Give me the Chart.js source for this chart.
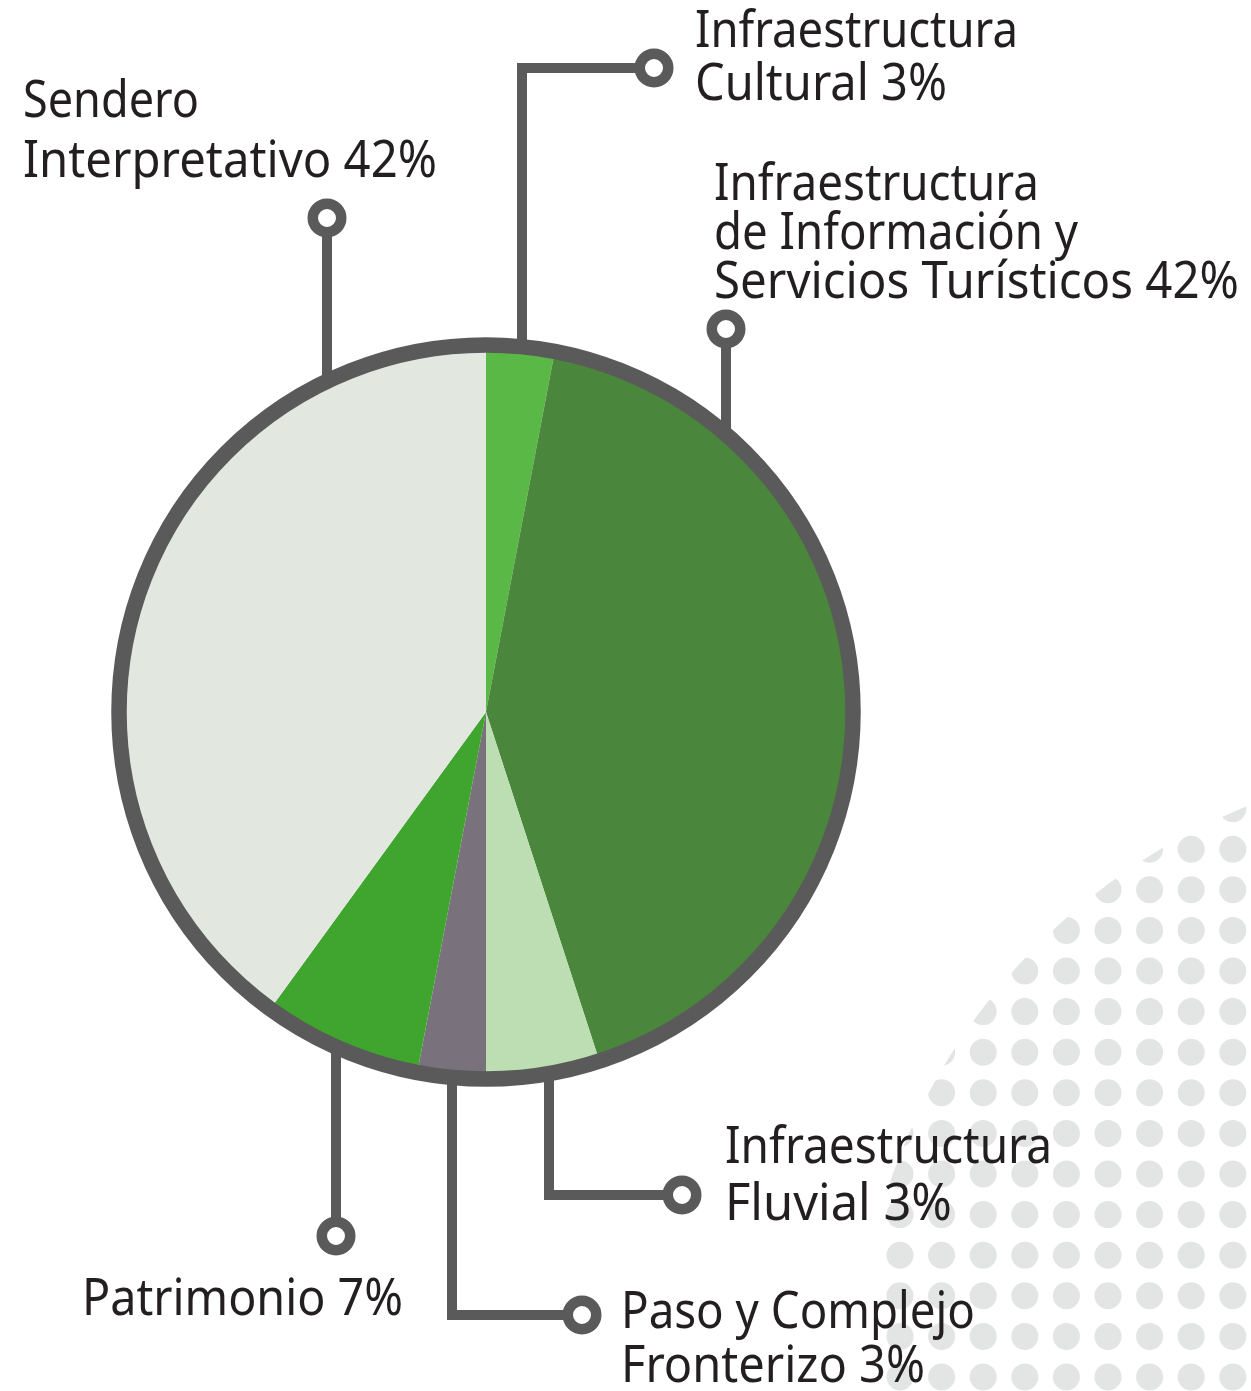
<!DOCTYPE html>
<html>
<head>
<meta charset="utf-8">
<script src="https://cdn.jsdelivr.net/npm/chart.js@4.4.1/dist/chart.umd.min.js"></script>
<style>
  html, body { margin: 0; padding: 0; background: #ffffff; }
  #wrap { width: 1251px; height: 1391px; }
</style>
</head>
<body>
<div id="wrap"><canvas id="pieChart" width="1251" height="1391"></canvas></div>
<script>
// categories, clockwise from 12 o'clock (each split into its printed lines)
const categories = [
    ['Infraestructura', 'Cultural'],
    ['Infraestructura', 'de Información y', 'Servicios Turísticos'],
    ['Infraestructura', 'Fluvial'],
    ['Paso y Complejo', 'Fronterizo'],
    ['Patrimonio'],
    ['Sendero', 'Interpretativo']
];
// slice sizes as drawn in the picture (%)
const sliceShares = [3, 42, 5, 3, 7, 40];
// percentages printed in the labels
const labelPercents = [3, 42, 3, 3, 7, 42];
const sliceColors = ['#5ab946', '#4a873c', '#bddeb2', '#79717b', '#3fa52e', '#e2e8e0'];

const GREY = '#5a5a5a';
const INK = '#231f20';

// where each label and its leader sit; widths = printed width of each line
const labelLayout = [
    { x: 695, y: 47,   lead: 53, widths: [323, 252],      marker: [654, 68],   elbowX: 522 },
    { x: 714, y: 200,  lead: 49, widths: [325, 364, 525], marker: [726, 329],  elbowX: null },
    { x: 725, y: 1163, lead: 57, widths: [327, 227],      marker: [682, 1195], elbowX: 549 },
    { x: 621, y: 1328, lead: 54, widths: [354, 304],      marker: [582, 1315], elbowX: 452 },
    { x: 82,  y: 1315, lead: 0,  widths: [321],           marker: [336, 1236], elbowX: null },
    { x: 23,  y: 117,  lead: 60, widths: [176, 414],      marker: [327, 218],  elbowX: null }
];

function labelLines(i) {
    const lines = categories[i].slice();
    lines[lines.length - 1] += ' ' + labelPercents[i] + '%';
    return lines;
}

const decor = {
    id: 'decor',
    beforeDraw(chart) {
        // dotted backdrop, bottom right
        const ctx = chart.ctx;
        ctx.save();
        ctx.beginPath();
        ctx.arc(1480, 1385, 624, 0, Math.PI * 2);
        ctx.clip();
        ctx.fillStyle = '#e3e4e4';
        for (let r = 0; r < 15; r++) {
            const y = 1377 - r * 40.6;
            for (let c = 0; c < 9; c++) {
                const x = 900 + c * 41.6;
                ctx.beginPath();
                ctx.arc(x, y, 13.5, 0, Math.PI * 2);
                ctx.fill();
            }
        }
        ctx.restore();
    },
    afterDatasetsDraw(chart) {
        const ctx = chart.ctx;
        const arc = chart.getDatasetMeta(0).data[0];
        const cx = arc.x, cy = arc.y, R = arc.outerRadius - 1;

        ctx.save();
        // leader lines
        ctx.strokeStyle = GREY;
        ctx.lineWidth = 10;
        ctx.lineJoin = 'miter';
        labelLayout.forEach(l => {
            const [mx, my] = l.marker;
            const vx = l.elbowX === null ? mx : l.elbowX;
            const half = Math.sqrt(R * R - (vx - cx) * (vx - cx));
            const endY = my < cy ? cy - half : cy + half;
            ctx.beginPath();
            ctx.moveTo(mx, my);
            if (l.elbowX !== null) ctx.lineTo(vx, my);
            ctx.lineTo(vx, endY);
            ctx.stroke();
        });

        // outer ring
        ctx.lineWidth = 15.5;
        ctx.beginPath();
        ctx.arc(cx, cy, R, 0, Math.PI * 2);
        ctx.stroke();

        // markers
        ctx.lineWidth = 10.5;
        ctx.fillStyle = '#ffffff';
        labelLayout.forEach(l => {
            ctx.beginPath();
            ctx.arc(l.marker[0], l.marker[1], 14.25, 0, Math.PI * 2);
            ctx.fill();
            ctx.stroke();
        });

        // labels, squeezed to the printed width of each line
        ctx.font = '51px "Noto Sans", sans-serif';
        ctx.fillStyle = INK;
        ctx.textBaseline = 'alphabetic';
        ctx.textAlign = 'left';
        labelLayout.forEach((l, i) => {
            labelLines(i).forEach((line, k) => {
                const sx = l.widths[k] / ctx.measureText(line).width;
                ctx.save();
                ctx.translate(l.x, l.y + k * l.lead);
                ctx.scale(sx, 1);
                ctx.fillText(line, 0, 0);
                ctx.restore();
            });
        });
        ctx.restore();
    }
};

new Chart(document.getElementById('pieChart').getContext('2d'), {
    type: 'pie',
    data: {
        labels: categories.map(c => c.join(' ')),
        datasets: [{
            data: sliceShares,
            backgroundColor: sliceColors,
            borderWidth: 0,
            hoverOffset: 0
        }]
    },
    options: {
        responsive: false,
        animation: false,
        radius: 368,
        layout: { padding: { left: 0, right: 279, top: 33, bottom: 0 } },
        events: [],
        plugins: {
            legend: { display: false },
            tooltip: { enabled: false }
        }
    },
    plugins: [decor]
});
</script>
</body>
</html>
